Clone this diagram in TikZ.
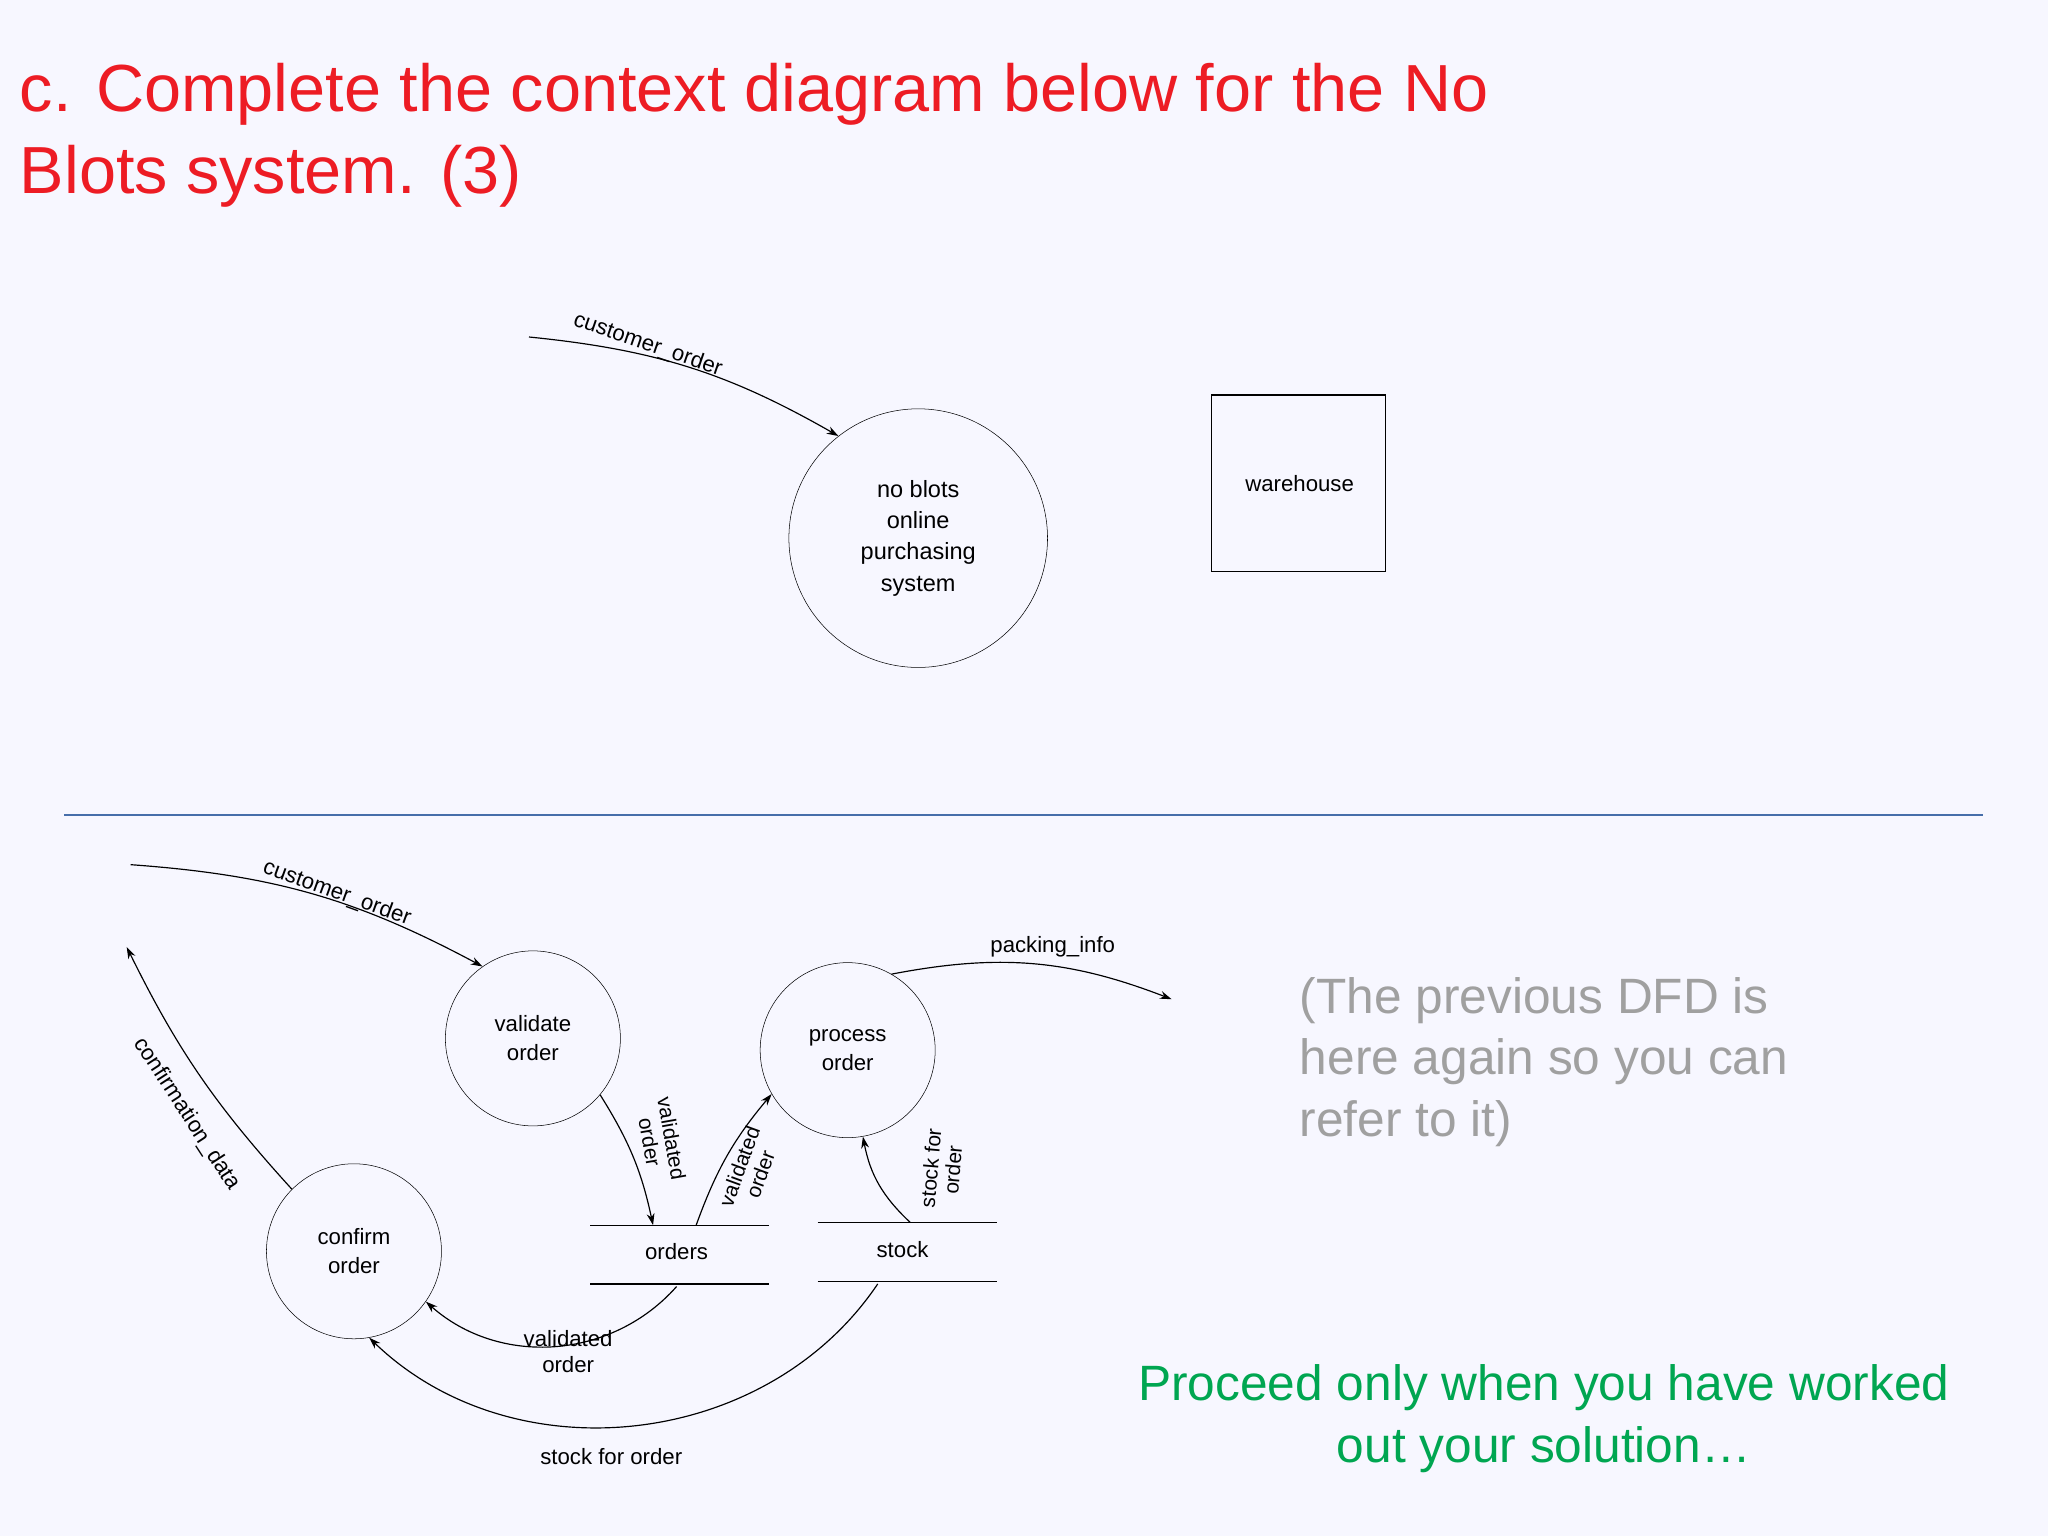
\documentclass[tikz,border=0pt]{standalone}
\usepackage{fontspec}
\setmainfont{Liberation Sans}
\usetikzlibrary{arrows.meta}
\definecolor{redt}{RGB}{237,28,36}
\definecolor{greent}{RGB}{0,166,81}
\definecolor{grayt}{RGB}{160,160,160}
\definecolor{bluel}{RGB}{70,110,170}
\begin{document}
\begin{tikzpicture}[x=1pt,y=-1pt,
  proc/.style={draw,circle,minimum size=134pt,inner sep=0pt,align=center,font=\fontsize{17}{22}\selectfont},
  flow/.style={-{Stealth[length=9pt,width=6pt]},line width=0.9pt},
  lbl/.style={font=\fontsize{17}{20}\selectfont,align=center},
  slbl/.style={font=\fontsize{16}{17}\selectfont,align=center,inner sep=1pt},
  storeline/.style={line width=1pt}]
\fill[white!97!blue] (0,0) rectangle (1568,1176);
\useasboundingbox (0,0) rectangle (1568,1176);
\node[anchor=base west,text=redt,font=\fontsize{51}{60}\selectfont,inner sep=0pt] (t1) at (15,85) {c. Complete the context diagram below for the No};
\node[anchor=base west,text=redt,font=\fontsize{51}{60}\selectfont,inner sep=0pt] (t2) at (15,148) {Blots system. (3)};
% top
\node[proc,minimum size=198pt,font=\fontsize{18}{24}\selectfont] (nb) at (703,412) {no blots\\online\\purchasing\\system};
\node[draw,minimum width=133pt,minimum height=135pt,line width=1pt] (wh) at (994,370) {};
\node[lbl] (whl) at (995,370) {warehouse};
\coordinate (s1) at (405,258);
\draw[flow] (s1) to[bend left=12] (nb.128);
\node[lbl,rotate=-19] (col) at (496,264) {customer\_order};
% separator
\coordinate (l1) at (49,624); \coordinate (l2) at (1518,624);
\draw[bluel,line width=1pt] (l1) -- (l2);
% bottom
\node[proc] (vo) at (408,795) {validate\\order};
\node[proc] (po) at (649,804) {process\\order};
\node[proc] (co) at (271,958) {confirm\\order};
\coordinate (o1) at (452,938); \coordinate (o2) at (589,938);
\coordinate (o3) at (452,983); \coordinate (o4) at (589,983);
\draw[storeline] (o1)--(o2) (o3)--(o4);
\node[lbl] (ord) at (518,958) {orders};
\coordinate (k1) at (626,936); \coordinate (k2) at (763,936);
\coordinate (k3) at (626,981); \coordinate (k4) at (763,981);
\draw[storeline] (k1)--(k2) (k3)--(k4);
\node[lbl] (stk) at (691,957) {stock};
\coordinate (c0) at (100,662);
\draw[flow] (c0) to[bend left=12] (vo.125);
\node[lbl,rotate=-20] (cul) at (258,684) {customer\_order};
\coordinate (cd) at (97,725);
\draw[flow] (co.135) to[bend left=8] (cd);
\node[lbl,rotate=-57] (cdl) at (143,853) {confirmation\_data};
\coordinate (pi) at (897,765);
\draw[flow] (po.60) to[bend left=16] (pi);
\node[lbl] (pil) at (806,725) {packing\_info};
\coordinate (oa) at (500,938);
\draw[flow] (vo.-40) to[bend left=10] (oa);
\node[slbl,rotate=-80] (v1) at (506,873) {validated\\order};
\coordinate (ob) at (533,938);
\draw[flow] (ob) to[bend left=10] (po.-150);
\node[slbl,rotate=70] (v2) at (574,896) {validated\\order};
\coordinate (sa) at (697,936);
\draw[flow] (sa) to[bend left=18] (po.-80);
\node[slbl,rotate=85] (s2) at (721,895) {stock for\\order};
\coordinate (oc) at (518,985);
\draw[flow] (oc) to[bend left=45] (co.-35);
\node[lbl] (vol) at (435,1035) {validated\\order};
\coordinate (sb) at (672,983);
\draw[flow] (sb) to[bend left=50] (co.-80);
\node[lbl] (sfo) at (468,1115) {stock for order};
% side texts
\node[anchor=north west,text=grayt,align=left,font=\fontsize{38}{47}\selectfont,inner sep=0pt] (g) at (995,748) {(The previous DFD is\\here again so you can\\refer to it)};
\node[text=greent,align=center,font=\fontsize{38}{47}\selectfont] (gr) at (1182,1086) {Proceed only when you have worked\\out your solution\ldots};
\end{tikzpicture}
\end{document}
